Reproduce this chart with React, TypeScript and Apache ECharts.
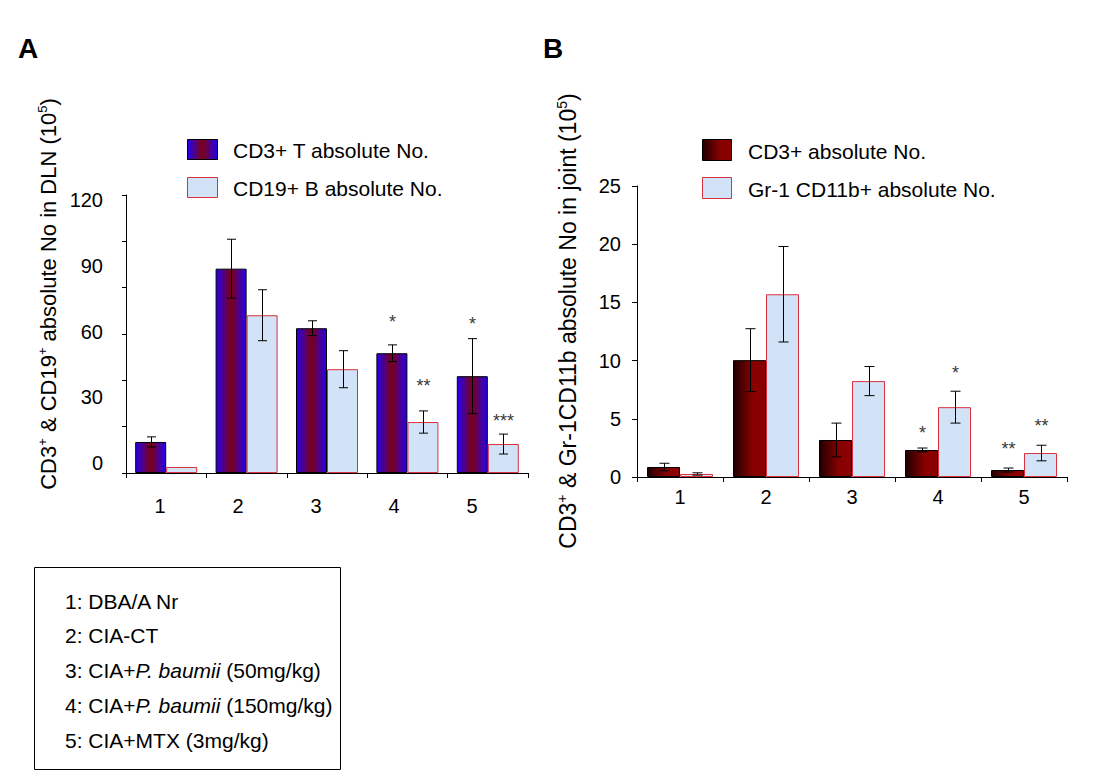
import React, { useEffect, useRef } from 'react';
import * as echarts from 'echarts';

// ---------- data ----------
const categories = ['1', '2', '3', '4', '5'];

// Panel A (DLN), units of 10^5
const aCD3 = [13.4, 88.2, 62.5, 51.7, 41.8];
const aCD3Err = [2.2, 12.7, 3.2, 3.6, 16.2];
const aCD19 = [2.6, 68.1, 44.8, 22.0, 12.5];
const aCD19Err = [0, 11.0, 8.0, 4.8, 4.3];
const aCD3Sig = ['', '', '', '*', '*'];
const aCD3SigY = [0, 0, 0, 67.5, 66.6];
const aCD19Sig = ['', '', '', '**', '***'];
const aCD19SigY = [0, 0, 0, 39.9, 24.7];

// Panel B (joint), units of 10^5
const bCD3 = [0.86, 10.04, 3.18, 2.32, 0.6];
const bCD3Err = [0.32, 2.7, 1.45, 0.17, 0.17];
const bGr1 = [0.26, 15.7, 8.24, 6.0, 2.06];
const bGr1Err = [0.1, 4.1, 1.25, 1.37, 0.67];
const bCD3Sig = ['', '', '', '*', '**'];
const bCD3SigY = [0, 0, 0, 4.23, 2.86];
const bGr1Sig = ['', '', '', '*', '**'];
const bGr1SigY = [0, 0, 0, 9.4, 4.84];

const seriesNamesA = ['CD3+ T absolute No.', 'CD19+ B absolute No.'];
const seriesNamesB = ['CD3+ absolute No.', 'Gr-1 CD11b+ absolute No.'];

const groupLabels = [
  '1: DBA/A Nr',
  '2: CIA-CT',
  '3: CIA+{i|P. baumii} (50mg/kg)',
  '4: CIA+{i|P. baumii} (150mg/kg)',
  '5: CIA+MTX (3mg/kg)',
];

const FONT = '"Liberation Sans", Arial, sans-serif';

const gradA = () =>
  new echarts.graphic.LinearGradient(0, 0, 1, 0, [
    { offset: 0, color: '#2400f0' },
    { offset: 0.5, color: '#7c0014' },
    { offset: 1, color: '#2400f0' },
  ]);
const gradB = () =>
  new echarts.graphic.LinearGradient(0, 0, 1, 0, [
    { offset: 0, color: '#1e0000' },
    { offset: 0.6, color: '#880000' },
    { offset: 1, color: '#8c0000' },
  ]);
const LIGHT = '#d2e3f7';
const RED_BORDER = '#d8303c';

function errSeries(
  axisIdx: number,
  values: number[],
  errs: number[],
  sig: string[],
  sigY: number[],
  offset: number,
  cap: number
) {
  return {
    type: 'custom',
    xAxisIndex: axisIdx,
    yAxisIndex: axisIdx,
    clip: false,
    z: 5,
    silent: true,
    data: values.map((v, i) => [i, v, errs[i]]),
    renderItem: (params: any, api: any) => {
      const i = params.dataIndex;
      const xi = api.value(0);
      const v = api.value(1);
      const e = api.value(2);
      const c = api.coord([xi, v]);
      const x = Math.round(c[0] + offset) + 0.5;
      const children: any[] = [];
      if (e > 0) {
        const t = api.coord([xi, v + e])[1];
        const b = api.coord([xi, v - e])[1];
        const ls = { stroke: '#000', lineWidth: 1 };
        children.push({ type: 'line', shape: { x1: x, y1: t, x2: x, y2: b }, style: ls });
        children.push({ type: 'line', shape: { x1: x - cap, y1: t, x2: x + cap, y2: t }, style: ls });
        children.push({ type: 'line', shape: { x1: x - cap, y1: b, x2: x + cap, y2: b }, style: ls });
      }
      if (sig[i]) {
        const sy = api.coord([xi, sigY[i]])[1];
        children.push({
          type: 'text',
          style: {
            text: sig[i],
            x,
            y: sy + 5,
            align: 'center',
            verticalAlign: 'middle',
            fontSize: 18,
            fontFamily: FONT,
            fill: '#3a3a3a',
          },
        });
      }
      return { type: 'group', children };
    },
  };
}

const axisLineBlack = { show: true, lineStyle: { color: '#000', width: 1 } };
const labelStyle = { color: '#000', fontSize: 20, fontFamily: FONT };

export default function App() {
  const ref = useRef<HTMLDivElement>(null);

  useEffect(() => {
    if (!ref.current) return;
    const chart = echarts.init(ref.current, undefined, { renderer: 'svg' });

    const richA = {
      sup: { fontSize: 13, verticalAlign: 'top', fontFamily: FONT, fill: '#000', lineHeight: 25 },
    };
    const richB = {
      sup: { fontSize: 14, verticalAlign: 'top', fontFamily: FONT, fill: '#000', lineHeight: 26 },
    };

    const option: any = {
      animation: false,
      backgroundColor: '#fff',
      textStyle: { fontFamily: FONT },
      grid: [
        { left: 126, top: 195, width: 402, height: 278 },
        { left: 121, top: 200, width: 390, height: 263 },
        { left: 637, top: 186, width: 430, height: 291 },
      ],
      xAxis: [
        {
          gridIndex: 0,
          type: 'category',
          data: categories,
          axisLine: axisLineBlack,
          axisTick: { show: true, length: 5, interval: 0, alignWithLabel: false, lineStyle: { color: '#000' } },
          axisLabel: { show: false },
          splitLine: { show: false },
        },
        {
          gridIndex: 1,
          type: 'category',
          data: categories,
          axisLine: { show: false },
          axisTick: { show: false },
          axisLabel: { ...labelStyle, margin: 33 },
          splitLine: { show: false },
        },
        {
          gridIndex: 2,
          type: 'category',
          data: categories,
          axisLine: axisLineBlack,
          axisTick: { show: true, length: 5, interval: 0, alignWithLabel: false, lineStyle: { color: '#000' } },
          axisLabel: { ...labelStyle, margin: 10 },
          splitLine: { show: false },
        },
      ],
      yAxis: [
        {
          gridIndex: 0,
          type: 'value',
          min: 0,
          max: 120,
          interval: 20,
          axisLine: axisLineBlack,
          axisTick: { show: true, length: 4, lineStyle: { color: '#000' } },
          axisLabel: { show: false },
          splitLine: { show: false },
        },
        {
          gridIndex: 1,
          type: 'value',
          min: 0,
          max: 120,
          interval: 30,
          axisLine: { show: false },
          axisTick: { show: false },
          axisLabel: { ...labelStyle, margin: 18 },
          splitLine: { show: false },
        },
        {
          gridIndex: 2,
          type: 'value',
          min: 0,
          max: 25,
          interval: 5,
          axisLine: axisLineBlack,
          axisTick: { show: true, length: 5, lineStyle: { color: '#000' } },
          axisLabel: { ...labelStyle, margin: 16 },
          splitLine: { show: false },
        },
      ],
      series: [
        {
          name: seriesNamesA[0],
          type: 'bar',
          xAxisIndex: 0,
          yAxisIndex: 0,
          data: aCD3,
          barWidth: 31,
          barGap: '0%',
          itemStyle: { color: gradA(), borderColor: '#000', borderWidth: 1 },
          emphasis: { disabled: true },
        },
        {
          name: seriesNamesA[1],
          type: 'bar',
          xAxisIndex: 0,
          yAxisIndex: 0,
          data: aCD19,
          barWidth: 31,
          barGap: '0%',
          itemStyle: { color: LIGHT, borderColor: RED_BORDER, borderWidth: 1 },
          emphasis: { disabled: true },
        },
        {
          name: seriesNamesB[0],
          type: 'bar',
          xAxisIndex: 2,
          yAxisIndex: 2,
          data: bCD3,
          barWidth: 33,
          barGap: '0%',
          itemStyle: { color: gradB(), borderColor: '#000', borderWidth: 1 },
          emphasis: { disabled: true },
        },
        {
          name: seriesNamesB[1],
          type: 'bar',
          xAxisIndex: 2,
          yAxisIndex: 2,
          data: bGr1,
          barWidth: 33,
          barGap: '0%',
          itemStyle: { color: LIGHT, borderColor: RED_BORDER, borderWidth: 1 },
          emphasis: { disabled: true },
        },
        errSeries(0, aCD3, aCD3Err, aCD3Sig, aCD3SigY, -15.5, 4.5),
        errSeries(0, aCD19, aCD19Err, aCD19Sig, aCD19SigY, 15.5, 4.5),
        errSeries(2, bCD3, bCD3Err, bCD3Sig, bCD3SigY, -16.5, 5),
        errSeries(2, bGr1, bGr1Err, bGr1Sig, bGr1SigY, 16.5, 5),
      ],
      graphic: [
        // panel letters
        { type: 'text', x: 28, y: 48, style: { text: 'A', fontSize: 28, fontWeight: 'bold', fontFamily: FONT, fill: '#000', align: 'center', verticalAlign: 'middle' } },
        { type: 'text', x: 553, y: 48, style: { text: 'B', fontSize: 28, fontWeight: 'bold', fontFamily: FONT, fill: '#000', align: 'center', verticalAlign: 'middle' } },
        // y axis titles
        {
          type: 'text',
          x: 48,
          y: 294,
          rotation: Math.PI / 2,
          style: {
            text: 'CD3{sup|+} & CD19{sup|+} absolute No in DLN (10{sup|5})',
            rich: richA,
            fontSize: 22,
            lineHeight: 25,
            fontFamily: FONT,
            fill: '#000',
            align: 'center',
            verticalAlign: 'middle',
          },
        },
        {
          type: 'text',
          x: 568,
          y: 321,
          rotation: Math.PI / 2,
          style: {
            text: 'CD3{sup|+} & Gr-1CD11b absolute No in joint (10{sup|5})',
            rich: richB,
            fontSize: 23,
            lineHeight: 26,
            fontFamily: FONT,
            fill: '#000',
            align: 'center',
            verticalAlign: 'middle',
          },
        },
        // legend A
        { type: 'rect', shape: { x: 187.5, y: 139.5, width: 30, height: 20 }, style: { fill: gradA(), stroke: '#000', lineWidth: 1 } },
        { type: 'text', x: 233, y: 150, style: { text: seriesNamesA[0], fontSize: 21, fontFamily: FONT, fill: '#000', verticalAlign: 'middle' } },
        { type: 'rect', shape: { x: 187.5, y: 177.5, width: 30, height: 20 }, style: { fill: LIGHT, stroke: RED_BORDER, lineWidth: 1 } },
        { type: 'text', x: 233, y: 188, style: { text: seriesNamesA[1], fontSize: 21, fontFamily: FONT, fill: '#000', verticalAlign: 'middle' } },
        // legend B
        { type: 'rect', shape: { x: 702.5, y: 139.5, width: 29, height: 21 }, style: { fill: gradB(), stroke: '#000', lineWidth: 1 } },
        { type: 'text', x: 748, y: 151, style: { text: seriesNamesB[0], fontSize: 21, fontFamily: FONT, fill: '#000', verticalAlign: 'middle' } },
        { type: 'rect', shape: { x: 702.5, y: 177.5, width: 29, height: 21 }, style: { fill: LIGHT, stroke: RED_BORDER, lineWidth: 1 } },
        { type: 'text', x: 748, y: 189, style: { text: seriesNamesB[1], fontSize: 21, fontFamily: FONT, fill: '#000', verticalAlign: 'middle' } },
        // group key box
        { type: 'rect', shape: { x: 34.5, y: 567.5, width: 306, height: 202 }, style: { fill: 'none', stroke: '#000', lineWidth: 1 } },
        ...groupLabels.map((t, i) => ({
          type: 'text',
          x: 65,
          y: 601 + i * 34.8,
          style: {
            text: t,
            rich: { i: { fontStyle: 'italic', fontSize: 21, fontFamily: FONT, fill: '#000' } },
            fontSize: 21,
            fontFamily: FONT,
            fill: '#000',
            verticalAlign: 'middle',
          },
        })),
      ],
    };

    chart.setOption(option);
    return () => chart.dispose();
  }, []);

  return (
    <div
      ref={ref}
      style={{ position: 'absolute', left: 0, top: 0, width: 1108, height: 784, background: '#fff' }}
    />
  );
}
